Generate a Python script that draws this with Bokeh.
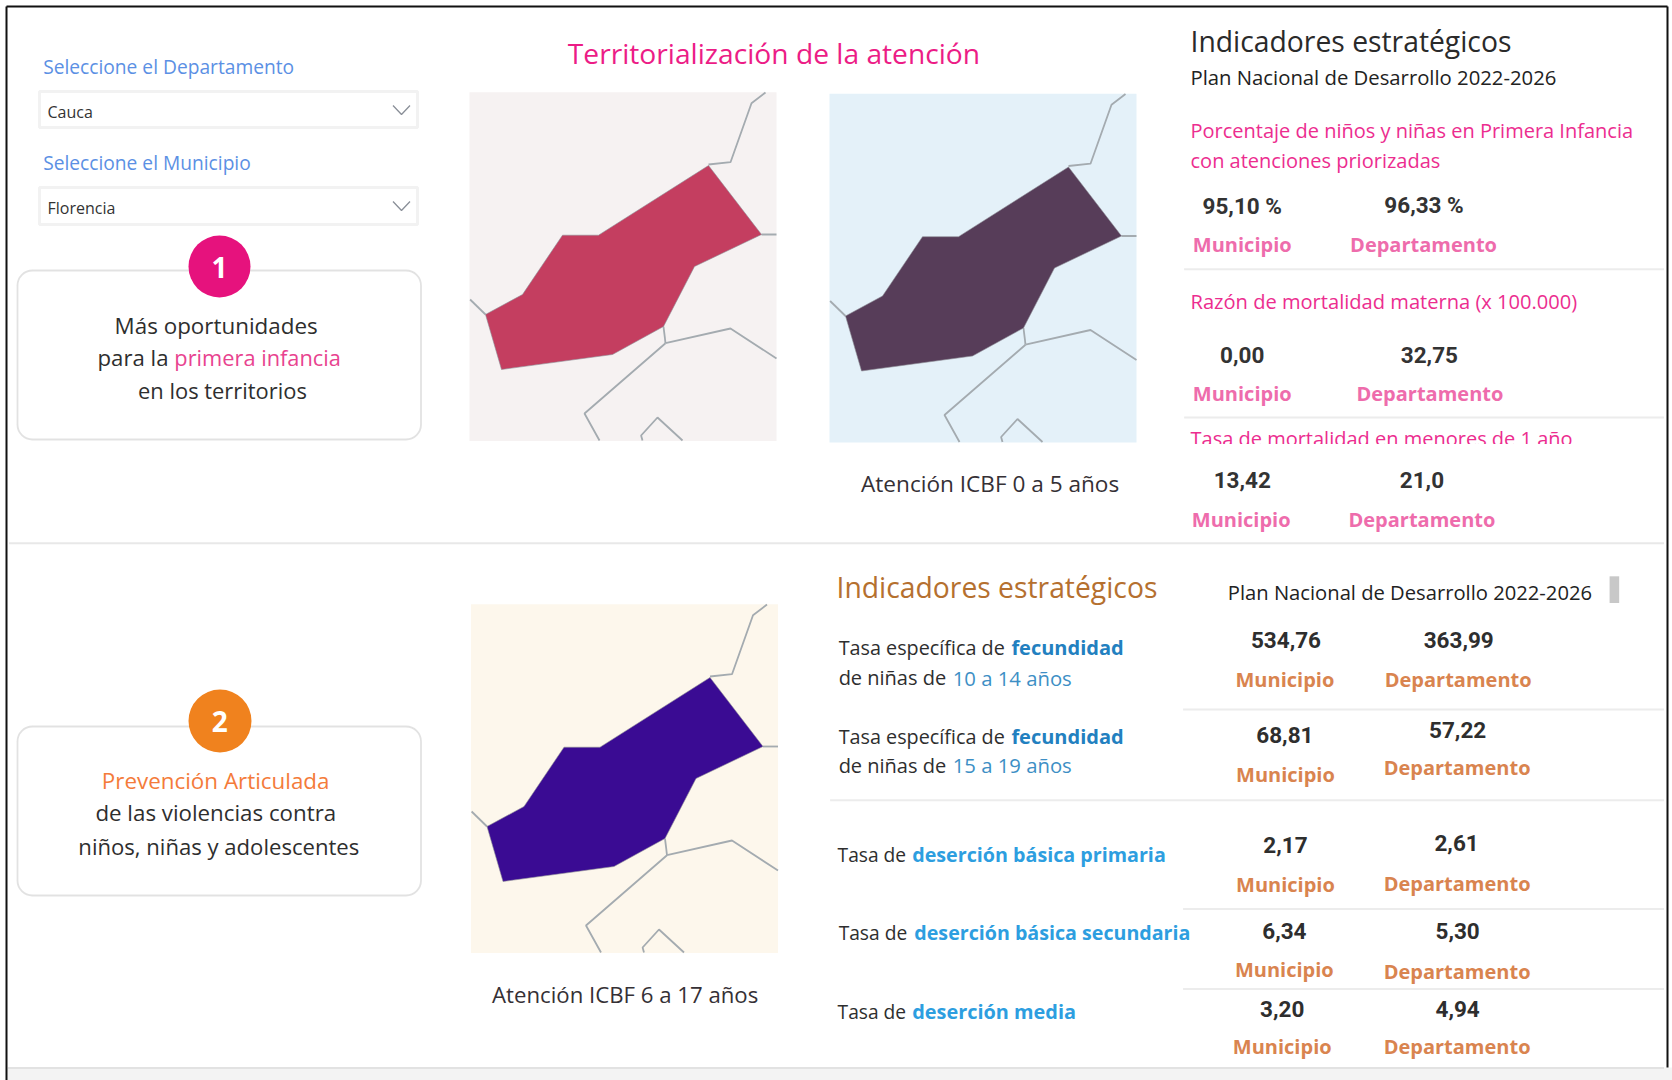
from bokeh.plotting import figure
from bokeh.models import BoxAnnotation, Range1d
from bokeh.core.properties import value
from bokeh.embed import file_html
from bokeh.resources import INLINE

# ---------- data ----------
top_mun = ["95,10 %", "0,00", "13,42"]
top_dep = ["96,33 %", "32,75", "21,0"]
bot_mun = ["534,76", "68,81", "2,17", "6,34", "3,20"]
bot_dep = ["363,99", "57,22", "2,61", "5,30", "4,94"]
dept_name = "Cauca"
muni_name = "Florencia"

muni_x = [708, 761, 694, 663, 612, 501, 485, 522, 562, 598]
muni_y = [165, 234, 266, 326, 354, 369, 314, 294, 234.7, 234.7]
nb_x = [[765, 751, 730, 708], [761, 776], [469.6, 485], [663, 665],
        [665, 730, 776], [665, 584, 599], [642, 640.6, 657, 682]]
nb_y = [[92, 102.7, 161.7, 164], [234, 234], [299, 314], [326, 342.7],
        [342.7, 328, 358], [342.7, 413, 440], [440, 435, 417, 440]]

S = 1672 / 1568  # helper: picture units

p = figure(width=1672, height=1080, output_backend="svg", toolbar_location=None,
           x_range=Range1d(0, 1672), y_range=Range1d(1080, 0),
           min_border=0, outline_line_color=None, x_axis_location=None, y_axis_location=None)
p.grid.visible = False
p.background_fill_color = "white"
p.styles = {"position": "absolute", "left": "0px", "top": "0px"}

def txt(s, x, y, color="#2b2b2b", size=18, bold=False, font="Open Sans", align="left"):
    p.text([x * S], [y * S], text=[s], text_color=color, text_font=value(font),
           text_font_size=f"{size}px", text_font_style="bold" if bold else "normal",
           text_align=align, text_baseline="middle")

def hline(x0, x1, y, color="#ececec", w=2):
    p.line([x0 * S, x1 * S], [y * S, y * S], line_color=color, line_width=w)

# ---------- frame ----------
p.quad(left=[7], right=[1672], top=[1067], bottom=[1080], fill_color="#f3f3f3", line_color=None)
hline(7, 1560, 1001, "#e2e2e2", 2)
p.line([6, 6], [6, 1080], line_color="#111111", line_width=2)
p.line([6, 1667], [6, 6], line_color="#111111", line_width=2)
p.line([1667, 1667], [6, 1067], line_color="#111111", line_width=2)
hline(8, 1560, 509, "#e8e8e8", 2)

# ---------- maps ----------
maps = [(0, 0, "#f6f2f2", "#c43e60"), (360, 1.5, "#e4f1f9", "#573d59"), (1.5, 512, "#fdf7ec", "#3a0b93")]
for dx, dy, bg, fc in maps:
    p.quad(left=[469 + dx], right=[776 + dx], top=[91.7 + dy], bottom=[440.4 + dy], fill_color=bg, line_color=None)
    p.multi_line([[v + dx for v in xs] for xs in nb_x], [[v + dy for v in ys] for ys in nb_y],
                 line_color="#a4abb0", line_width=1.8)
    p.patch([v + dx for v in muni_x], [v + dy for v in muni_y], fill_color=fc, line_color="#8d8d95", line_width=0.6)

# ---------- left column ----------
BLUE = "#5b90e4"
txt("Seleccione el Departamento", 40, 62, BLUE, 19.2)
txt("Seleccione el Municipio", 40, 152, BLUE, 19.2)
for top, bottom, name in [(91, 127, dept_name), (187, 224, muni_name)]:
    p.quad(left=[39], right=[417], top=[top], bottom=[bottom], fill_color="white", line_color="#f2f2f2", line_width=3)
    p.text([47], [(top + bottom) / 2 + 2], text=[name], text_color="#333333", text_font=value("Open Sans"),
           text_font_size="16px", text_baseline="middle")
    p.line([392.5, 401, 409.5], [top + 14, top + 23, top + 14], line_color="#8a8f98", line_width=1.3)

for t, b in [(270, 439), (726, 895)]:
    p.add_layout(BoxAnnotation(left=17, right=420.5, top=t, bottom=b, border_radius=15, fill_alpha=0,
                               line_color="#a0a0a0", line_width=1.8, level="underlay"))
p.circle([219], [266], radius=31, fill_color="#e6127d", line_color=None)
p.circle([219.5], [720.5], radius=31.5, fill_color="#f0821e", line_color=None)
txt("1", 205.3, 250.5, "white", 28, True, align="center")
txt("2", 205.7, 676.5, "white", 28, True, align="center")

DARK = "#2e2e2e"
txt("Más oportunidades", 107, 304.5, DARK, 22.4)
txt("para la", 91, 334.5, DARK, 22.2)
txt("primera infancia", 163, 334.5, "#e8438f", 21.8)
txt("en los territorios", 129, 365.5, DARK, 21.9)
txt("Prevención Articulada", 95, 731.5, "#f47b3a", 22.4)
txt("de las violencias contra", 89, 761.5, DARK, 22.3)
txt("niños, niñas y adolescentes", 73, 793, DARK, 22.1)

# ---------- centre ----------
txt("Territorialización de la atención", 532, 49.5, "#ec1c86", 28.2)
txt("Atención ICBF 0 a 5 años", 807, 453, "#353035", 22.6)
txt("Atención ICBF 6 a 17 años", 461, 932, "#353035", 22.2)

# ---------- top right ----------
PINK = "#ec2d8f"
LP = "#ee6cac"
txt("Indicadores estratégicos", 1116, 38, "#2a2a2a", 28.3)
txt("Plan Nacional de Desarrollo 2022-2026", 1116, 72, "#222222", 20.3)
txt("Porcentaje de niños y niñas en Primera Infancia", 1116, 121.5, PINK, 20)
txt("con atenciones priorizadas", 1116, 150.5, PINK, 20)
txt("Razón de mortalidad materna (x 100.000)", 1116, 282.5, PINK, 20.1)
txt("Tasa de mortalidad en menores de 1 año", 1116, 410.5, PINK, 20)
p.quad(left=[1180], right=[1600], top=[443.5], bottom=[455], fill_color="white", line_color=None)

for i, (xm, xd, ym, yd) in enumerate([(1164.5, 1335, 193, 192), (1164.5, 1340, 332, 332), (1164.5, 1333, 449.5, 449.5)]):
    txt(top_mun[i], xm, ym, "#333333", 22.5, True, "Roboto", "center")
    txt(top_dep[i], xd, yd, "#333333", 22.5, True, "Roboto", "center")
for xm, xd, y in [(1164.5, 1334.5, 229), (1164.5, 1340.5, 369), (1163.5, 1333, 487)]:
    txt("Municipio", xm, y, LP, 20, True, align="center")
    txt("Departamento", xd, y, LP, 20, True, align="center")
hline(1110, 1560, 252)
hline(1110, 1560, 391)

# ---------- bottom right ----------
txt("Indicadores estratégicos", 784, 550, "#b5702f", 28.3)
txt("Plan Nacional de Desarrollo 2022-2026", 1151, 555, "#222222", 20.2)
p.quad(left=[1509 * S], right=[1518 * S], top=[540 * S], bottom=[565 * S], fill_color="#c8c8c8", line_color=None)

BL1 = "#2280c0"; BL2 = "#3d8fc5"; BL3 = "#2d9ee0"
txt("Tasa específica de", 786, 607, DARK, 19.8)
txt("fecundidad", 948, 607, BL1, 20, True)
txt("de niñas de", 786, 635, DARK, 20)
txt("10 a 14 años", 893, 635, BL2, 20.3)
txt("Tasa específica de", 786, 690, DARK, 19.8)
txt("fecundidad", 948, 690, BL1, 20, True)
txt("de niñas de", 786, 717, DARK, 20)
txt("15 a 19 años", 893, 717, BL2, 20.3)
txt("Tasa de", 785, 801, DARK, 19.2)
txt("deserción básica primaria", 855, 801, BL3, 19.7, True)
txt("Tasa de", 786, 874, DARK, 19.2)
txt("deserción básica secundaria", 857, 874, BL3, 19.65, True)
txt("Tasa de", 785, 948, DARK, 19.2)
txt("deserción media", 855, 948, BL3, 19.9, True)

OR = "#d9844f"
pos = [(1205.5, 1367.5, 600, 600, 1204.5, 1367, 637, 637),
       (1204.5, 1366.5, 689, 684, 1205, 1366, 726, 719),
       (1205, 1365.5, 792, 790, 1205, 1366, 829, 828),
       (1204, 1366.5, 873, 873, 1204, 1366, 909, 911),
       (1202, 1366.5, 946, 946, 1202, 1366, 981, 981)]
for i, (xm, xd, ym, yd, xlm, xld, ylm, yld) in enumerate(pos):
    txt(bot_mun[i], xm, ym, "#2e2e2e", 22.5, True, "Roboto", "center")
    txt(bot_dep[i], xd, yd, "#2e2e2e", 22.5, True, "Roboto", "center")
    txt("Municipio", xlm, ylm, OR, 20, True, align="center")
    txt("Departamento", xld, yld, OR, 20, True, align="center")
hline(1109, 1560, 665)
hline(778, 1560, 750)
hline(1109, 1560, 852)
hline(1109, 1560, 927)

open("out.html", "w").write(file_html(p, INLINE))
